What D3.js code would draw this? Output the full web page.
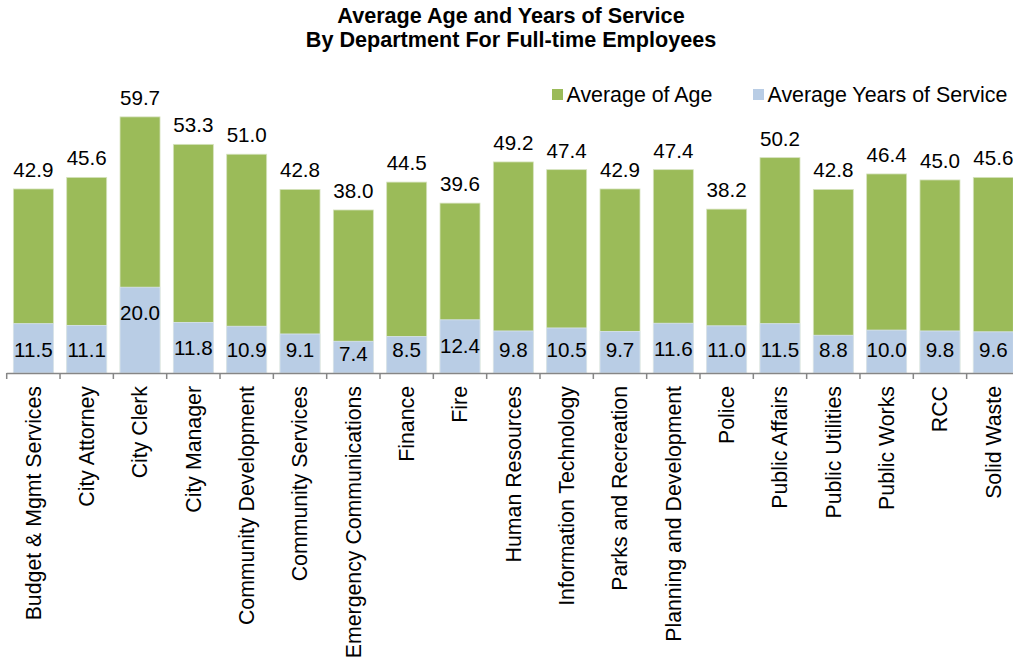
<!DOCTYPE html>
<html>
<head>
<meta charset="utf-8">
<script src="https://cdn.jsdelivr.net/npm/d3@7"></script>
<style>
  html, body { margin: 0; padding: 0; background: #fff; }
  svg { display: block; font-family: "Liberation Sans", Arial, sans-serif; }
</style>
</head>
<body>
<svg id="chart" width="1013" height="660"></svg>
<script>
// Department averages for full-time employees
const departments = [
  "Budget & Mgmt Services", "City Attorney", "City Clerk", "City Manager",
  "Community Development", "Community Services", "Emergency Communications",
  "Finance", "Fire", "Human Resources", "Information Technology",
  "Parks and Recreation", "Planning and Development", "Police",
  "Public Affairs", "Public Utilities", "Public Works", "RCC", "Solid Waste"
];
const averageAge = [42.9, 45.6, 59.7, 53.3, 51.0, 42.8, 38.0, 44.5, 39.6, 49.2,
                    47.4, 42.9, 47.4, 38.2, 50.2, 42.8, 46.4, 45.0, 45.6];
const averageService = [11.5, 11.1, 20.0, 11.8, 10.9, 9.1, 7.4, 8.5, 12.4, 9.8,
                        10.5, 9.7, 11.6, 11.0, 11.5, 8.8, 10.0, 9.8, 9.6];
const seriesNames = ["Average of Age", "Average Years of Service"];
const titleLines = ["Average Age and Years of Service", "By Department For Full-time Employees"];

const colors = { age: "#9bbb59", service: "#b9cde5" };

const svg = d3.select("#chart");
const baseline = 373;

// category slots (one per department) and bars centred within them
const x = d3.scaleBand().domain(departments).range([6.7, 6.7 + 53.33 * departments.length]).padding(0);
const barW = x.bandwidth() * 0.75;
const y = d3.scaleLinear().domain([0, 70]).range([baseline, baseline - 70 * 4.29]);

const rows = departments.map((d, i) => ({ dept: d, age: averageAge[i], service: averageService[i] }));

// title
svg.append("g").selectAll("text").data(titleLines).join("text")
  .attr("x", 511).attr("y", (d, i) => 23 + i * 24)
  .attr("text-anchor", "middle")
  .attr("font-size", 21.6).attr("font-weight", "bold").attr("fill", "#000")
  .text(d => d);

const bars = svg.append("g");
const barX = d => x(d.dept) + (x.bandwidth() - barW) / 2;

// age bars (back)
bars.selectAll("rect.age").data(rows).join("rect").attr("class", "age")
  .attr("x", barX).attr("width", barW)
  .attr("y", d => y(d.age)).attr("height", d => baseline - y(d.age))
  .attr("fill", colors.age).attr("stroke", "#d6e3bf").attr("stroke-width", 0.8);

// service bars overlaid in front
bars.selectAll("rect.svc").data(rows).join("rect").attr("class", "svc")
  .attr("x", barX).attr("width", barW)
  .attr("y", d => y(d.service)).attr("height", d => baseline - y(d.service))
  .attr("fill", colors.service).attr("stroke", "#dbe5f1").attr("stroke-width", 0.8);

// value labels
const cx = d => x(d.dept) + x.bandwidth() / 2;
svg.append("g").selectAll("text").data(rows).join("text")
  .attr("x", cx).attr("y", d => y(d.age) - 12)
  .attr("text-anchor", "middle").attr("font-size", 20.6).attr("fill", "#000")
  .text(d => d.age.toFixed(1));

svg.append("g").selectAll("text").data(rows).join("text")
  .attr("x", cx)
  .attr("y", d => Math.min(y(d.service) + 33, Math.max(357, y(d.service) + 20)))
  .attr("text-anchor", "middle").attr("font-size", 20.6).attr("fill", "#000")
  .text(d => d.service.toFixed(1));

// category axis
const axis = svg.append("g");
axis.append("line")
  .attr("x1", x.range()[0]).attr("x2", x.range()[1])
  .attr("y1", baseline + 0.5).attr("y2", baseline + 0.5)
  .attr("stroke", "#868686").attr("stroke-width", 1.5);
axis.selectAll("line.tick").data(departments.concat([null])).join("line").attr("class", "tick")
  .attr("x1", (d, i) => x.range()[0] + i * x.step()).attr("x2", (d, i) => x.range()[0] + i * x.step())
  .attr("y1", baseline).attr("y2", baseline + 6)
  .attr("stroke", "#868686").attr("stroke-width", 1.5);
axis.selectAll("text").data(departments).join("text")
  .attr("transform", d => `translate(${x(d) + x.bandwidth() / 2},386) rotate(-90)`)
  .attr("dy", "0.35em").attr("text-anchor", "end")
  .attr("font-size", 21.3).attr("fill", "#000")
  .text(d => d);

// legend
const legend = svg.append("g");
const legendItems = [
  { name: seriesNames[0], color: colors.age, x: 552 },
  { name: seriesNames[1], color: colors.service, x: 753 }
];
const li = legend.selectAll("g").data(legendItems).join("g")
  .attr("transform", d => `translate(${d.x},89)`);
li.append("rect").attr("width", 11).attr("height", 11).attr("fill", d => d.color);
li.append("text").attr("x", 14.5).attr("y", 12.5)
  .attr("font-size", 21.4).attr("fill", "#000").text(d => d.name);
</script>
</body>
</html>
